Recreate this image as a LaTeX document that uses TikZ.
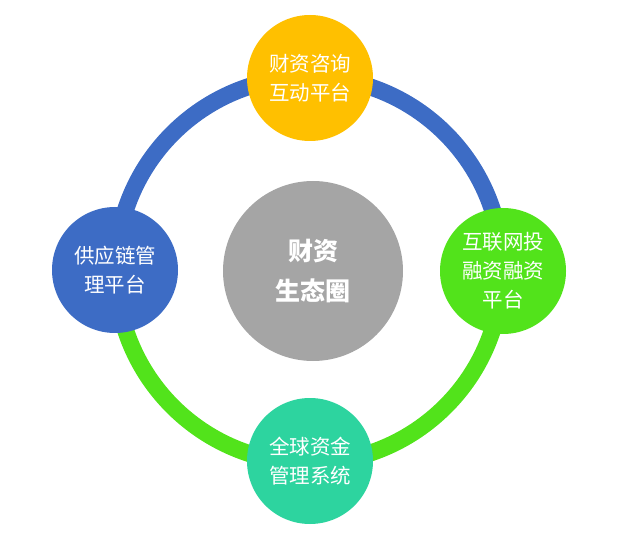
\documentclass[tikz,border=0pt]{standalone}
\usepackage{fontspec}
\newfontfamily\cjk{Noto Sans CJK SC}
\definecolor{ringblue}{HTML}{3D6CC5}
\definecolor{ringgreen}{HTML}{52E31B}
\definecolor{cyellow}{HTML}{FFC000}
\definecolor{cteal}{HTML}{2DD49F}
\definecolor{cgray}{HTML}{A5A5A5}
\begin{document}
\begin{tikzpicture}[x=1pt,y=-1pt,
  sat/.style={circle,minimum size=126pt,inner sep=0pt,text=white,align=center,
    font=\cjk\fontsize{20.5}{29}\selectfont},
  hub/.style={circle,minimum size=180pt,inner sep=0pt,fill=cgray,text=white,align=center,
    font=\cjk\bfseries\fontsize{25}{40}\selectfont},
  ring/.style={line width=17pt}]
\useasboundingbox (0,0) rectangle (626,534);
\coordinate (c) at (309,270);
\draw[ring,ringblue] (c) ++(0:193) arc[start angle=0,end angle=-180,radius=193];
\draw[ring,ringgreen] (c) ++(180:193) arc[start angle=180,end angle=0,radius=193];
\node[hub] (hub) at (313,271) {财资\\生态圈};
\node[sat,fill=cyellow] (top) at (310,78) {财资咨询\\互动平台};
\node[sat,fill=ringblue] (left) at (115,270) {供应链管\\理平台};
\node[sat,fill=ringgreen] (right) at (503,271) {互联网投\\融资融资\\平台};
\node[sat,fill=cteal] (bottom) at (310,461) {全球资金\\管理系统};
\end{tikzpicture}
\end{document}
